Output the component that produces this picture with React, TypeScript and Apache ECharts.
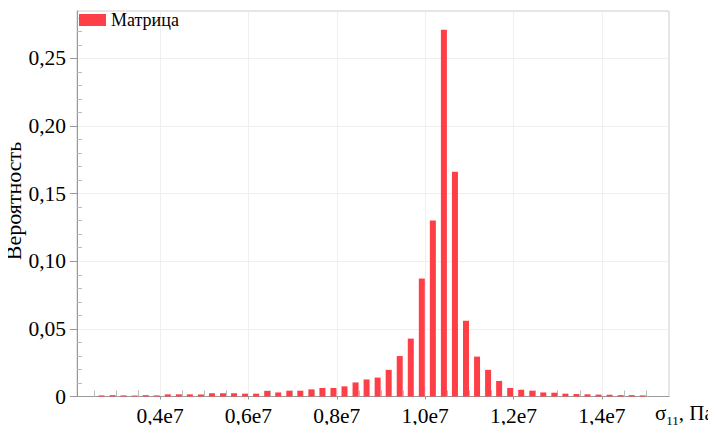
import React, { useEffect, useRef } from "react";
import * as echarts from "echarts";

const binCenters = [
  2675000, 2925000, 3175000, 3425000, 3675000, 3925000, 4175000, 4425000, 4675000, 4925000,
  5175000, 5425000, 5675000, 5925000, 6175000, 6425000, 6675000, 6925000, 7175000, 7425000,
  7675000, 7925000, 8175000, 8425000, 8675000, 8925000, 9175000, 9425000, 9675000, 9925000,
  10175000, 10425000, 10675000, 10925000, 11175000, 11425000, 11675000, 11925000, 12175000, 12425000,
  12675000, 12925000, 13175000, 13425000, 13675000, 13925000, 14175000, 14425000, 14675000, 14925000,
];

const probability = [
  0.0008, 0.001, 0.0008, 0.0007, 0.001, 0.0008, 0.0016, 0.0016, 0.0016, 0.0015,
  0.0024, 0.0024, 0.0024, 0.0021, 0.0021, 0.0042, 0.003, 0.0043, 0.0043, 0.0053,
  0.0063, 0.0063, 0.0075, 0.0104, 0.0126, 0.014, 0.0197, 0.0299, 0.0428, 0.0872,
  0.1302, 0.2712, 0.1662, 0.056, 0.0295, 0.0197, 0.0115, 0.0063, 0.005, 0.0043,
  0.003, 0.0028, 0.0021, 0.0018, 0.0016, 0.0014, 0.0013, 0.001, 0.001, 0.0008,
];

const xMajorTicks = [4000000, 6000000, 8000000, 10000000, 12000000, 14000000];
const xMinorTicks = [
  2500000, 3000000, 3500000, 4500000, 5000000, 5500000, 6500000, 7000000, 7500000,
  8500000, 9000000, 9500000, 10500000, 11000000, 11500000, 12500000, 13000000, 13500000,
  14500000, 15000000,
];
const yMajorTicks = [0, 0.05, 0.1, 0.15, 0.2, 0.25];
const yMinorTicks = [
  0.01, 0.02, 0.03, 0.04, 0.06, 0.07, 0.08, 0.09, 0.11, 0.12, 0.13, 0.14,
  0.16, 0.17, 0.18, 0.19, 0.21, 0.22, 0.23, 0.24, 0.26, 0.27, 0.28,
];

const X_MIN = 2120000;
const X_MAX = 15520000;
const Y_MAX = 0.285;

const SERIF = "Liberation Serif";

export default function App() {
  const ref = useRef<HTMLDivElement>(null);
  useEffect(() => {
    if (!ref.current) return;
    const chart = echarts.init(ref.current, null, { renderer: "svg" });
    const data = binCenters.map((x, i) => [x, probability[i]]);
    chart.setOption({
      animation: false,
      backgroundColor: "#ffffff",
      textStyle: { fontFamily: SERIF, color: "#000" },
      grid: {
        left: 77,
        top: 11,
        right: 47,
        bottom: 36.5,
        show: true,
        borderColor: "#cccccc",
        borderWidth: 1,
        outerBoundsMode: "none",
        containLabel: false,
      },
      legend: {
        show: true,
        left: 79,
        top: 11,
        padding: 0,
        icon: "rect",
        itemWidth: 27,
        itemHeight: 12,
        itemGap: 6,
        textStyle: { fontFamily: SERIF, fontSize: 18, color: "#000" },
        data: ["Матрица"],
      },
      xAxis: [
        {
          type: "value",
          min: X_MIN,
          max: X_MAX,
          splitNumber: 7,
          axisLine: { show: true, lineStyle: { color: "#999999", width: 1 } },
          axisTick: {
            show: true,
            inside: false,
            length: 3,
            customValues: xMajorTicks,
            lineStyle: { color: "#999999" },
          },
          axisLabel: {
            customValues: xMajorTicks,
            margin: 10,
            align: "center",
            fontFamily: SERIF,
            fontSize: 21.5,
            lineHeight: 18,
            color: "#000",
            formatter: (v: number) => (v / 1e7).toFixed(1).replace(".", ",") + "e7",
          },
          splitLine: { show: true, lineStyle: { color: "#efefef", width: 1 } },
        },
        {
          type: "value",
          min: X_MIN,
          max: X_MAX,
          position: "bottom",
          axisLine: { show: false },
          axisTick: {
            show: true,
            inside: true,
            length: 6,
            customValues: xMinorTicks,
            lineStyle: { color: "#bbbbbb" },
          },
          axisLabel: { show: false },
          splitLine: { show: false },
        },
      ],
      yAxis: [
        {
          type: "value",
          min: 0,
          max: Y_MAX,
          axisLine: { show: true, lineStyle: { color: "#999999", width: 1 } },
          axisTick: {
            show: true,
            inside: false,
            length: 7,
            customValues: yMajorTicks,
            lineStyle: { color: "#999999" },
          },
          axisLabel: {
            customValues: yMajorTicks,
            margin: 11,
            fontFamily: SERIF,
            fontSize: 21.5,
            color: "#000",
            formatter: (v: number) => (v === 0 ? "0" : v.toFixed(2).replace(".", ",")),
          },
          splitLine: { show: true, lineStyle: { color: "#efefef", width: 1 } },
          interval: 0.05,
        },
        {
          type: "value",
          min: 0,
          max: Y_MAX,
          position: "left",
          axisLine: { show: false },
          axisTick: {
            show: true,
            inside: true,
            length: 5,
            customValues: yMinorTicks,
            lineStyle: { color: "#bbbbbb" },
          },
          axisLabel: { show: false },
          splitLine: { show: false },
        },
      ],
      graphic: [
        {
          type: "text",
          x: 13,
          y: 201,
          rotation: Math.PI / 2,
          style: {
            text: "Вероятность",
            align: "center",
            verticalAlign: "middle",
            fontFamily: SERIF,
            fontSize: 22,
            fill: "#000",
          },
        },
        {
          type: "text",
          left: 655,
          top: 402,
          style: {
            text: "{a|σ}{s|11}{a|, Па}",
            rich: {
              a: { fontFamily: SERIF, fontSize: 21, color: "#000", verticalAlign: "bottom" },
              s: {
                fontFamily: SERIF,
                fontSize: 13,
                color: "#000",
                verticalAlign: "bottom",
                padding: [0, 0, -4, 0],
              },
            },
          },
        },
      ],
      series: [
        {
          name: "Матрица",
          type: "bar",
          xAxisIndex: 0,
          yAxisIndex: 0,
          barWidth: 6,
          itemStyle: { color: "#ff3f48" },
          data,
        },
      ],
    });
    return () => chart.dispose();
  }, []);
  return <div ref={ref} style={{ width: 716, height: 433, margin: -8 }} />;
}
